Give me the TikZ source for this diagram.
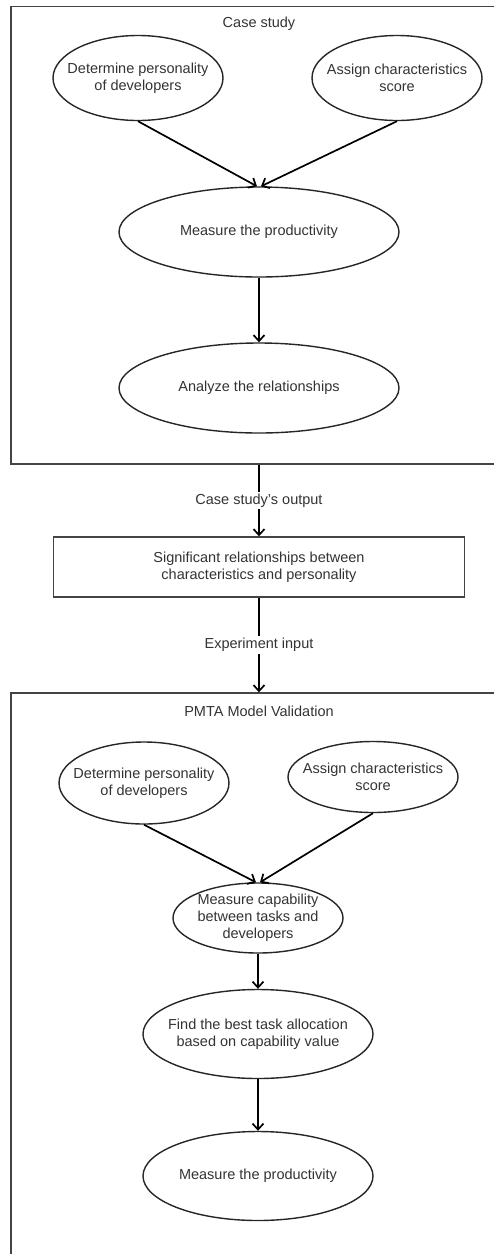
\documentclass[tikz,border=0pt]{standalone}
\usepackage{fontspec}
\setmainfont{Liberation Sans}
\usepackage{xcolor}
\usepackage{tikz}
\usetikzlibrary{arrows.meta,positioning,shapes,calc}

\definecolor{txtgray}{HTML}{333333}
\definecolor{framegray}{HTML}{444444}

\begin{document}
\begin{tikzpicture}[
  x=1pt, y=-1pt,
  stage/.style={ellipse, draw=black!85, line width=1.4pt, inner xsep=-20pt, inner ysep=-4pt, font=\fontsize{14.5}{17}\selectfont, text=txtgray, align=center},
  frame/.style={rectangle, draw=framegray, line width=1.4pt, minimum width=496pt},
  box/.style={rectangle, draw=framegray, line width=1.4pt, minimum width=411pt, minimum height=60pt, font=\fontsize{14.5}{17}\selectfont, text=txtgray, align=center},
  title/.style={font=\fontsize{14.5}{17}\selectfont, text=txtgray},
  lbl/.style={fill=white, font=\fontsize{14.5}{17}\selectfont, text=txtgray, inner sep=2pt},
  arrow/.style={-{Straight Barb[length=6pt,width=11pt]}, line width=1.7pt}
]
\useasboundingbox (0,0) rectangle (494,1254);
\clip (0,0) rectangle (494,1254);

% Case study frame
\node[frame, minimum height=457.5pt] (study) at (259,235.25) {};
\node[title] (studytitle) at (259,24) {Case study};

\node[stage, minimum width=170pt, minimum height=85pt] (pers) at (138,78) {Determine personality\\of developers};
\node[stage, minimum width=170pt, minimum height=85pt] (score) at (397,78) {Assign characteristics\\score};
\node[stage, minimum width=280pt, minimum height=90pt] (prod) at (259,232) {Measure the productivity};
\node[stage, minimum width=280pt, minimum height=90pt] (rel) at (259,388) {Analyze the relationships};

\draw[arrow] (pers.south) -- ([xshift=-2pt]prod.north);
\draw[arrow] (score.south) -- ([xshift=2pt]prod.north);
\draw[arrow] (prod) -- (rel);

% Output of the case study
\node[box] (sig) at (259,567) {Significant relationships between\\characteristics and personality};
\draw[arrow] (study.south) -- (sig.north) node[lbl, midway] {Case study's output};

% PMTA frame
\node[frame, minimum height=597pt] (valid) at (259,991.5) {};
\node[title] (validtitle) at (259,711) {PMTA Model Validation};
\draw[arrow] (sig.south) -- (valid.north) node[lbl, midway] {Experiment input};

\node[stage, minimum width=170pt, minimum height=82pt] (pers2) at (144,783) {Determine personality\\of developers};
\node[stage, minimum width=170pt, minimum height=71pt] (score2) at (373,777) {Assign characteristics\\score};
\node[stage, minimum width=170pt, minimum height=70pt] (capab) at (258,918) {Measure capability\\between tasks and\\developers};
\node[stage, minimum width=230pt, minimum height=89pt] (alloc) at (258,1034) {Find the best task allocation\\based on capability value};
\node[stage, minimum width=230pt, minimum height=89pt] (prod2) at (258,1176) {Measure the productivity};

\draw[arrow] (pers2.south) -- ([xshift=-2pt]capab.north);
\draw[arrow] (score2.south) -- ([xshift=2pt]capab.north);
\draw[arrow] (capab) -- (alloc);
\draw[arrow] (alloc) -- (prod2);

\end{tikzpicture}
\end{document}
